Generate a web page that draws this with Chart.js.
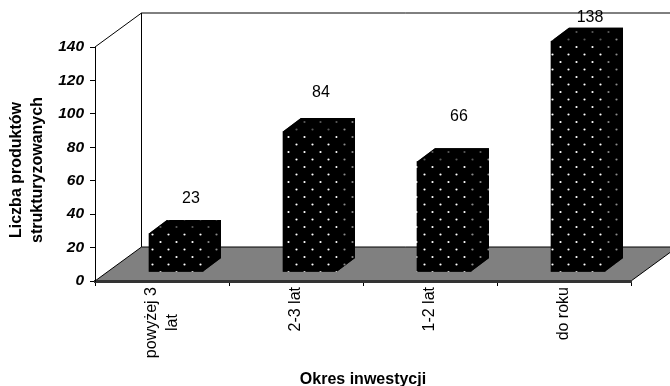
<!DOCTYPE html>
<html>
<head>
<meta charset="utf-8">
<style>
  html, body { margin: 0; padding: 0; background: #fff; }
  canvas { display: block; }
</style>
<script src="https://cdn.jsdelivr.net/npm/chart.js@4/dist/chart.umd.min.js"></script>
</head>
<body>
<canvas id="myChart" width="670" height="386"></canvas>
<script>
var categories = [["powyżej 3", "lat"], "2-3 lat", "1-2 lat", "do roku"];
var productCounts = [23, 84, 66, 138];
var axisMax = 140;
var axisStep = 20;
var yTitle = ["Liczba produktów", "strukturyzowanych"];
var xTitle = "Okres inwestycji";

// the value labels sit unevenly in the original
var labelNudgeX = [15, 11, 15, 12];
var labelNudgeY = [-35, -39, -45, -24];

var WALL_DX = 46.5, WALL_DY = -34;   // depth of the box
var BAR_DX = 14, BAR_DY = -9;        // where the bars stand on the floor
var SIDE_DX = 18, SIDE_DY = -13.5;   // depth of a bar
var LABEL_LINE = 20.8;               // line height of the category labels

function dots(dotColor) {
  var c = document.createElement("canvas");
  c.width = 16; c.height = 15;
  var g = c.getContext("2d");
  g.fillStyle = "#000";
  g.fillRect(0, 0, 16, 15);
  g.fillStyle = dotColor;
  g.beginPath();
  g.arc(10.5, 3.5, 1.1, 0, Math.PI * 2);
  g.arc(2.5, 11, 1.1, 0, Math.PI * 2);
  g.fill();
  return g.createPattern(c, "repeat");
}

function poly(ctx, pts, fill) {
  ctx.beginPath();
  ctx.moveTo(pts[0][0], pts[0][1]);
  for (var i = 1; i < pts.length; i++) ctx.lineTo(pts[i][0], pts[i][1]);
  ctx.closePath();
  ctx.fillStyle = fill;
  ctx.fill();
}

function line(ctx, x1, y1, x2, y2) {
  ctx.beginPath();
  ctx.moveTo(x1, y1);
  ctx.lineTo(x2, y2);
  ctx.stroke();
}

var box3d = {
  id: "box3d",
  beforeDraw: function (chart) {
    var ctx = chart.ctx, a = chart.chartArea;
    var backX = a.left + WALL_DX, backY = a.bottom + WALL_DY;
    ctx.save();
    poly(ctx, [[a.left, a.bottom], [backX, backY], [a.right + WALL_DX, backY], [a.right, a.bottom]], "#808080");
    ctx.strokeStyle = "#000";
    ctx.lineWidth = 1;
    line(ctx, a.left, a.top, backX, a.top + WALL_DY);
    line(ctx, a.left, a.bottom, backX, backY);
    line(ctx, a.right, a.bottom, a.right + WALL_DX, backY);
    line(ctx, backX, a.top + WALL_DY, backX, backY);
    line(ctx, backX, a.top + WALL_DY, chart.width, a.top + WALL_DY);
    line(ctx, backX, backY, chart.width, backY);

    // chart.js pushes wrapped rotated labels off the tick and aligns their ends,
    // the original centres the lines on each other
    ctx.font = "16px 'Liberation Sans'";
    chart.scales.x.getLabelItems().forEach(function (item) {
      if (Array.isArray(item.label) && !item.centred) {
        var longest = Math.max.apply(null, item.label.map(function (t) { return ctx.measureText(t).width; }));
        item.options.translation[0] -= (item.label.length - 1) * LABEL_LINE / 2;
        item.options.translation[1] += longest / 2;
        item.options.textAlign = "center";
        item.centred = true;
      }
    });
    ctx.restore();
  },
  beforeDatasetDraw: function (chart, args) {
    var ctx = chart.ctx;
    ctx.save();
    ctx.translate(BAR_DX, BAR_DY);
    args.meta.data.forEach(function (bar) {
      var l = bar.x - bar.width / 2, r = bar.x + bar.width / 2;
      var topFace = [[l, bar.y], [l + SIDE_DX, bar.y + SIDE_DY], [r + SIDE_DX, bar.y + SIDE_DY], [r, bar.y]];
      var sideFace = [[r, bar.y], [r + SIDE_DX, bar.y + SIDE_DY], [r + SIDE_DX, bar.base + SIDE_DY], [r, bar.base]];
      // black silhouette first so the faces show no seam
      poly(ctx, [[l, bar.base], [l, bar.y], topFace[1], topFace[2], sideFace[2], [r, bar.base]], "#000");
      poly(ctx, topFace, topFill);
      poly(ctx, sideFace, sideFill);
    });
  },
  afterDatasetDraw: function (chart) {
    chart.ctx.restore();
  },
  afterDatasetsDraw: function (chart) {
    var ctx = chart.ctx;
    ctx.save();
    ctx.font = "16px 'Liberation Sans'";
    ctx.fillStyle = "#000";
    ctx.textAlign = "center";
    ctx.textBaseline = "middle";
    chart.getDatasetMeta(0).data.forEach(function (bar, i) {
      ctx.fillText(productCounts[i], bar.x + BAR_DX + labelNudgeX[i], bar.y + BAR_DY + labelNudgeY[i]);
    });
    ctx.restore();

    // y title sits lower than the axis centre, so it is placed by hand
    ctx.save();
    ctx.font = "bold 16px 'Liberation Sans'";
    ctx.fillStyle = "#000";
    ctx.textAlign = "center";
    ctx.textBaseline = "middle";
    ctx.translate(17, 170);
    ctx.rotate(-Math.PI / 2);
    ctx.fillText(yTitle[0], 0, 0);
    ctx.fillText(yTitle[1], 0, 21);
    ctx.restore();
  }
};

var frontFill = dots("#ffffff");
var sideFill = dots("#8a8a8a");
var topFill = dots("#5a5a5a");

var myChart = new Chart(document.getElementById("myChart").getContext("2d"), {
  type: "bar",
  data: {
    labels: categories,
    datasets: [{
      data: productCounts,
      backgroundColor: frontFill,
      borderWidth: 0,
      barThickness: 54,
      clip: false
    }]
  },
  plugins: [box3d],
  options: {
    responsive: false,
    animation: false,
    events: [],
    layout: { padding: { top: 47, right: 39, left: 0, bottom: 0 } },
    plugins: { legend: { display: false }, tooltip: { enabled: false } },
    scales: {
      x: {
        afterFit: function (s) { s.height = 105; },
        border: { color: "#333", width: 3 },
        grid: { drawOnChartArea: false, color: "#000", tickLength: 5 },
        ticks: {
          minRotation: 90, maxRotation: 90, autoSkip: false, padding: 1,
          color: "#000", font: { family: "Liberation Sans", size: 16, lineHeight: 1.3 }
        },
        title: {
          display: true, text: xTitle, color: "#000", padding: { top: 0, bottom: -3 },
          font: { family: "Liberation Sans", size: 16, weight: "bold" }
        }
      },
      y: {
        min: 0,
        max: axisMax,
        afterFit: function (s) { s.width = 95; },
        border: { color: "#000", width: 1 },
        grid: { drawOnChartArea: false, color: "#000", tickLength: 5 },
        ticks: {
          stepSize: axisStep, padding: 6, color: "#000",
          font: { family: "Liberation Sans", size: 15.5, weight: "bold", style: "italic" }
        }
      }
    }
  }
});
</script>
</body>
</html>
